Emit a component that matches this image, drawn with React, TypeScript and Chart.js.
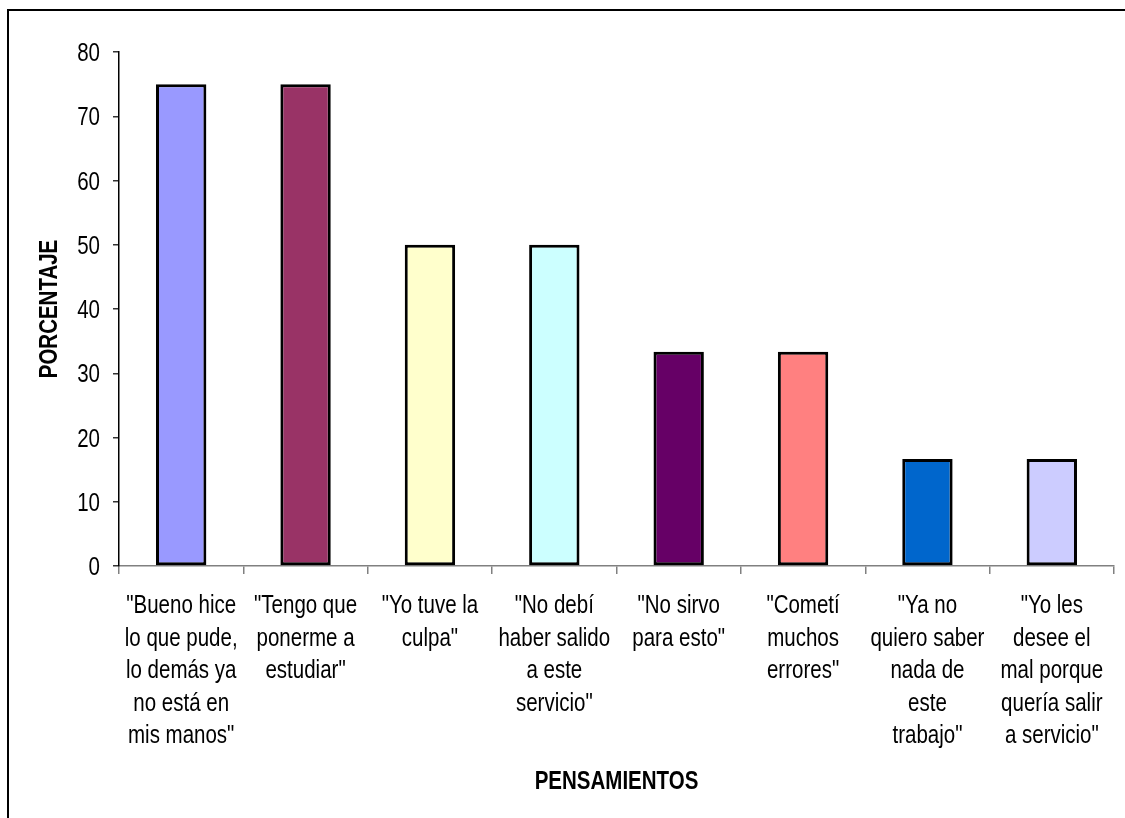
import React, { useEffect, useRef } from "react";
import { Chart, registerables } from "chart.js";

Chart.register(...registerables);

const categories: string[][] = [
  ['"Bueno hice', "lo que pude,", "lo demás ya", "no está en", 'mis manos"'],
  ['"Tengo que', "ponerme a", 'estudiar"'],
  ['"Yo tuve la', 'culpa"'],
  ['"No debí', "haber salido", "a este", 'servicio"'],
  ['"No sirvo', 'para esto"'],
  ['"Cometí', "muchos", 'errores"'],
  ['"Ya no', "quiero saber", "nada de", "este", 'trabajo"'],
  ['"Yo les', "desee el", "mal porque", "quería salir", 'a servicio"'],
];

const porcentajes: number[] = [75, 75, 50, 50, 33.33, 33.33, 16.67, 16.67];

const barColors: string[] = [
  "#9999FF",
  "#993366",
  "#FFFFCC",
  "#CCFFFF",
  "#660066",
  "#FF8080",
  "#0066CC",
  "#CCCCFF",
];

const yTicks = { min: 0, max: 80, step: 10 };
const xTitle = "PENSAMIENTOS";
const yTitle = "PORCENTAJE";

const FONT = '"Liberation Sans", Arial, sans-serif';
const FONT_SIZE = 25;
const CONDENSE = 0.82; // narrow face emulated by horizontal scaling
const LINE_HEIGHT = 32.5;

function drawNarrow(
  ctx: CanvasRenderingContext2D,
  text: string,
  x: number,
  y: number,
  align: CanvasTextAlign,
  rotate = 0
) {
  ctx.save();
  ctx.translate(x, y);
  if (rotate) ctx.rotate(rotate);
  ctx.scale(CONDENSE, 1);
  ctx.textAlign = align;
  ctx.fillText(text, 0, 0);
  ctx.restore();
}

// Draws tick labels and axis titles in a condensed style, positioned from the scales.
const narrowLabels = {
  id: "narrowLabels",
  afterDraw(chart: any) {
    const ctx: CanvasRenderingContext2D = chart.ctx;
    const xs = chart.scales.x;
    const ys = chart.scales.y;
    const area = chart.chartArea;
    ctx.save();
    ctx.fillStyle = "#000000";
    ctx.textBaseline = "alphabetic";
    ctx.font = `${FONT_SIZE}px ${FONT}`;

    ys.ticks.forEach((t: any, i: number) => {
      const py = ys.getPixelForTick(i);
      drawNarrow(ctx, String(t.value), ys.right - 19, py + 9, "right");
    });

    categories.forEach((lines, i) => {
      const px = xs.getPixelForTick(i);
      lines.forEach((line, j) => {
        drawNarrow(ctx, line, px, xs.top + 47 + j * LINE_HEIGHT, "center");
      });
    });

    ctx.font = `bold ${FONT_SIZE}px ${FONT}`;
    drawNarrow(ctx, xTitle, (area.left + area.right) / 2, xs.top + 223, "center");
    drawNarrow(ctx, yTitle, 57, (area.top + area.bottom) / 2, "center", -Math.PI / 2);
    ctx.restore();
  },
};

export default function App() {
  const canvasRef = useRef<HTMLCanvasElement | null>(null);

  useEffect(() => {
    const canvas = canvasRef.current;
    if (!canvas) return;
    const chart = new Chart(canvas, {
      type: "bar",
      data: {
        labels: categories.map((c) => c.join(" ")),
        datasets: [
          {
            data: porcentajes,
            backgroundColor: barColors,
            borderColor: "#000000",
            borderWidth: 3,
            borderSkipped: false,
            categoryPercentage: 1,
            barPercentage: 0.405,
          },
        ],
      },
      options: {
        responsive: false,
        animation: false,
        events: [],
        layout: { padding: { top: 52, right: 11, left: 10, bottom: 10 } },
        plugins: {
          legend: { display: false },
          tooltip: { enabled: false },
        },
        scales: {
          x: {
            offset: true,
            grid: {
              offset: true,
              drawOnChartArea: false,
              drawTicks: true,
              tickLength: 8,
              color: "#808080",
              lineWidth: 1.5,
            },
            border: { display: true, color: "#808080", width: 1.5 },
            ticks: { display: false, autoSkip: false },
            afterFit: (scale: any) => {
              scale.height = 242;
            },
          },
          y: {
            min: yTicks.min,
            max: yTicks.max,
            grid: {
              drawOnChartArea: false,
              drawTicks: true,
              tickLength: 6,
              color: "#333333",
              lineWidth: 1.5,
            },
            border: { display: true, color: "#000000", width: 1.5 },
            ticks: { display: false, stepSize: yTicks.step },
            afterFit: (scale: any) => {
              scale.width = 109;
            },
          },
        },
      },
      plugins: [narrowLabels],
    });
    return () => chart.destroy();
  }, []);

  return (
    <div
      style={{
        position: "fixed",
        left: 0,
        top: 0,
        width: 1125,
        height: 818,
        overflow: "hidden",
        background: "#ffffff",
      }}
    >
      <div
        style={{
          position: "absolute",
          left: 7,
          top: 9,
          width: 1125,
          height: 818,
          borderLeft: "2px solid #000",
          borderTop: "2px solid #000",
        }}
      />
      <canvas
        ref={canvasRef}
        width={1125}
        height={818}
        style={{ position: "absolute", left: 0, top: 0, display: "block" }}
      />
    </div>
  );
}
